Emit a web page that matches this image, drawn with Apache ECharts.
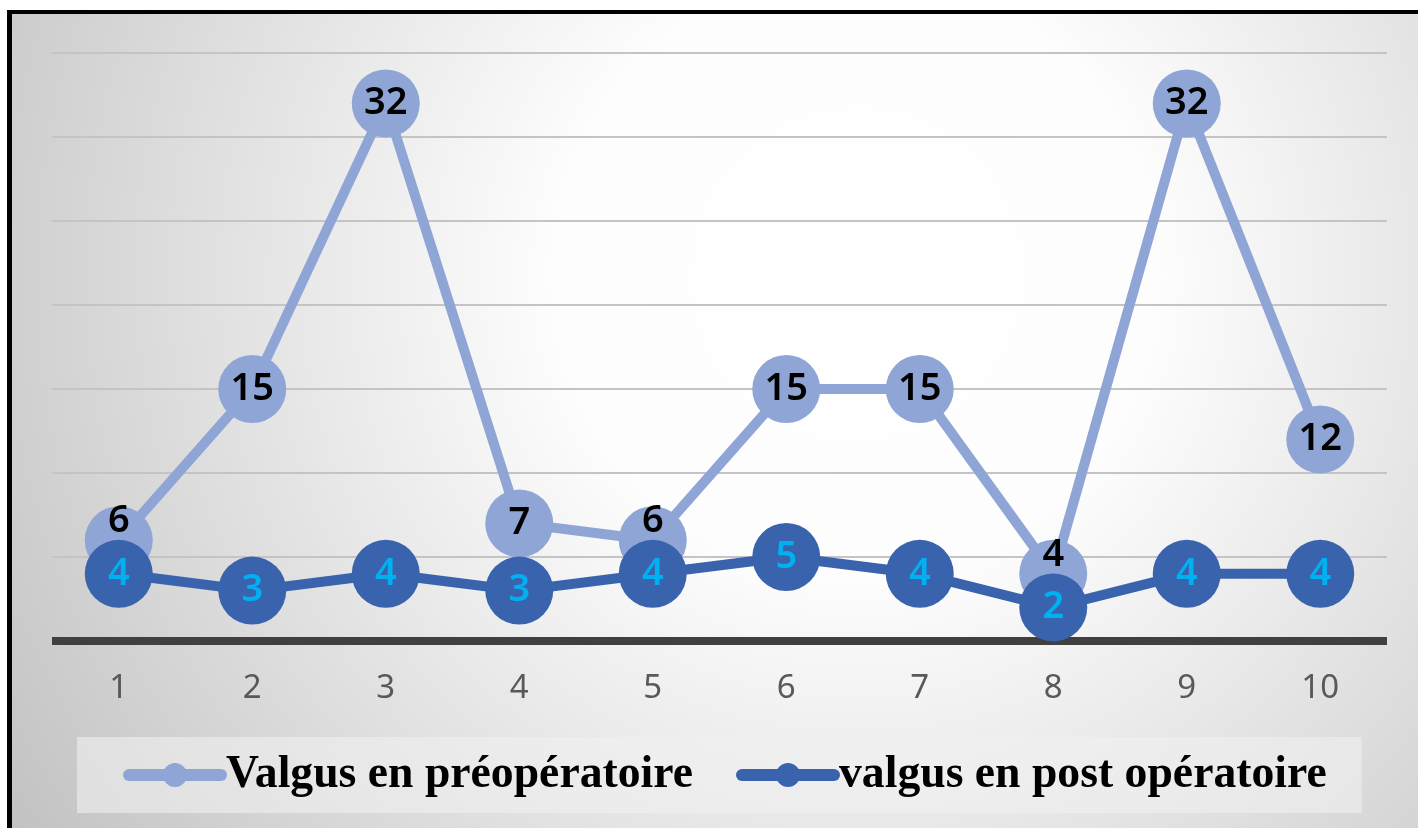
<!DOCTYPE html>
<html>
<head>
<meta charset="utf-8">
<script src="https://cdn.jsdelivr.net/npm/echarts@6/dist/echarts.min.js"></script>
<style>
  html, body { margin: 0; padding: 0; background: #ffffff; }
  #frame {
    position: absolute;
    left: 7px;
    top: 10px;
    width: 1411px;
    height: 818px;
    box-sizing: border-box;
    border-left: 5px solid #000;
    border-top: 4px solid #000;
    background: radial-gradient(circle farthest-corner at 60% 32%, #ffffff 0%, #fdfdfd 30%, #c2c2c2 100%);
  }
  #chart { width: 1406px; height: 814px; }
</style>
</head>
<body>
<div id="frame"><div id="chart"></div></div>
<script>
// données
const categories = ['1', '2', '3', '4', '5', '6', '7', '8', '9', '10']
const valgusPre = [6, 15, 32, 7, 6, 15, 15, 4, 32, 12]
const valgusPost = [4, 3, 4, 3, 4, 5, 4, 2, 4, 4]
const seriesNames = ['Valgus en préopératoire', 'valgus en post opératoire']

const preColor = '#8FA5D6'
const postColor = '#3A63AD'

const chart = echarts.init(document.getElementById('chart'))

// étiquette pré remontée quand le cercle post la recouvre
const preData = valgusPre.map((v, i) => {
  const item = { value: v }
  if (v - valgusPost[i] <= 2) {
    item.label = { offset: [0, -19] }
  }
  return item
})

const option = {
  backgroundColor: 'transparent',
  animation: false,
  grid: {
    left: 40,
    right: 31,
    top: 39,
    bottom: 187
  },
  legend: {
    data: seriesNames,
    left: 65,
    top: 723,
    padding: [15, 35, 15, 46],
    backgroundColor: 'rgba(240, 240, 240, 0.6)',
    itemWidth: 92,
    itemHeight: 30,
    itemGap: 43,
    lineStyle: { width: 12, cap: 'round' },
    textStyle: {
      fontFamily: 'Liberation Serif',
      fontWeight: 'bold',
      fontSize: 45.7,
      color: '#000'
    }
  },
  xAxis: {
    type: 'category',
    data: categories,
    axisLine: { lineStyle: { color: '#404040', width: 8, cap: 'butt' } },
    axisTick: { show: false },
    axisLabel: {
      color: '#595959',
      fontFamily: 'Noto Sans',
      fontSize: 33,
      margin: 31
    }
  },
  yAxis: {
    type: 'value',
    min: 0,
    max: 35,
    interval: 5,
    axisLine: { show: false },
    axisTick: { show: false },
    axisLabel: { show: false },
    splitLine: { lineStyle: { color: '#c4c4c4', width: 2 } }
  },
  series: [
    {
      name: seriesNames[0],
      type: 'line',
      data: preData,
      symbol: 'circle',
      symbolSize: 68,
      lineStyle: { color: preColor, width: 10 },
      itemStyle: { color: preColor },
      label: {
        show: true,
        position: 'inside',
        color: '#000',
        fontFamily: 'Noto Sans',
        fontWeight: 600,
        fontSize: 38
      }
    },
    {
      name: seriesNames[1],
      type: 'line',
      data: valgusPost,
      symbol: 'circle',
      symbolSize: 68,
      lineStyle: { color: postColor, width: 10 },
      itemStyle: { color: postColor },
      label: {
        show: true,
        position: 'inside',
        color: '#00B0F0',
        fontFamily: 'Noto Sans',
        fontWeight: 600,
        fontSize: 38
      }
    }
  ]
}

chart.setOption(option)
</script>
</body>
</html>
